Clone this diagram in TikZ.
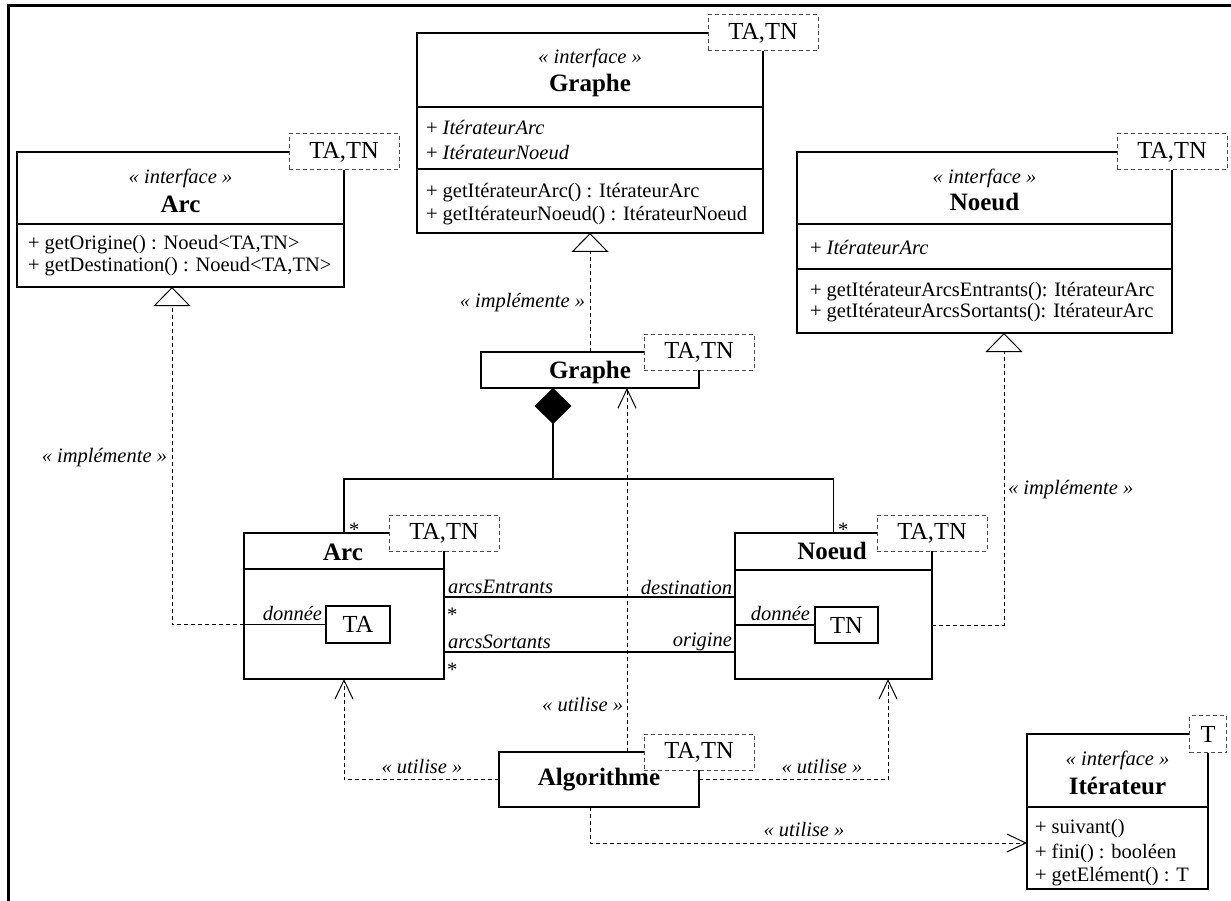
\documentclass[tikz,border=0pt]{standalone}
\usepackage{fontspec}
\setmainfont{Liberation Serif}
\usetikzlibrary{arrows.meta}
\begin{document}
\begin{tikzpicture}[x=1pt,y=-1pt,
  box/.style={draw=black, line width=1.2pt, fill=white, inner sep=0pt, outer sep=0pt},
  tmpl/.style={draw=black!70, dash pattern=on 4pt off 3pt, line width=1pt, fill=white, inner sep=0pt, outer sep=0pt,
     minimum width=110pt, minimum height=36pt, font=\fontsize{24.5}{28}\selectfont},
  txt/.style={inner sep=0pt, outer sep=0pt, font=\fontsize{20.5}{24}\selectfont},
  star/.style={inner sep=0pt, outer sep=0pt, anchor=base west, text depth=0pt, font=\fontsize{20.5}{24}\selectfont},
  ster/.style={inner sep=0pt, outer sep=0pt, font=\fontsize{20.5}{24}\selectfont\itshape},
  ttl/.style={inner sep=0pt, outer sep=0pt, font=\fontsize{25}{30}\selectfont\bfseries},
  sepline/.style={line width=1.2pt},
  dashline/.style={dash pattern=on 4pt off 3pt, line width=1pt},
  real/.style={dashline, -{Triangle[open, length=19pt, width=37pt, line width=1pt]}},
  dep/.style={dashline, -{Straight Barb[length=19pt, width=18pt, line width=1pt]}},
  comp/.style={line width=1.2pt, -{Diamond[length=36pt, width=37pt]}},
  assoc/.style={line width=1.1pt},
]
\useasboundingbox (0,0) rectangle (1231,901);
\fill[white] (0,0) rectangle (1231,901);
% frame
\draw[line width=3pt] (8,901) -- (8,6) -- (1231,6);

% ---------- boxes ----------
\node[box, minimum width=327pt, minimum height=135pt] (aif) at (180.5,219.5) {};
\node[box, minimum width=346pt, minimum height=200pt] (gif) at (590,133) {};
\node[box, minimum width=375pt, minimum height=181pt] (nif) at (984.5,242.5) {};
\node[box, minimum width=218pt, minimum height=36pt] (gcl) at (590,370) {};
\node[box, minimum width=200pt, minimum height=146pt] (acl) at (344,606) {};
\node[box, minimum width=197pt, minimum height=146pt] (ncl) at (833.5,606) {};
\node[box, minimum width=200pt, minimum height=55pt, font=\fontsize{25}{30}\selectfont\bfseries] (alg) at (599,779.5) {Algorithme};
\node[box, minimum width=181pt, minimum height=155pt] (itr) at (1117.5,811.5) {};
\node[box, minimum width=64pt, minimum height=37pt, font=\fontsize{24.5}{28}\selectfont] (ata) at (358,624.5) {TA};
\node[box, minimum width=63pt, minimum height=36pt, font=\fontsize{24.5}{28}\selectfont] (ntn) at (846.5,625) {TN};

% separators
\draw[sepline] (17,224) -- (344,224);
\draw[sepline] (417,107) -- (763,107);
\draw[sepline] (417,169) -- (763,169);
\draw[sepline] (797,224) -- (1172,224);
\draw[sepline] (797,269) -- (1172,269);
\draw[sepline] (244,569) -- (444,569);
\draw[sepline] (735,570) -- (932,570);
\draw[sepline] (1027,807) -- (1208,807);

% templates
\node[tmpl] (aiftp) at (aif.north east) {TA,TN};
\node[tmpl] (giftp) at (gif.north east) {TA,TN};
\node[tmpl] (niftp) at (nif.north east) {TA,TN};
\node[tmpl] (gcltp) at (gcl.north east) {TA,TN};
\node[tmpl] (acltp) at (acl.north east) {TA,TN};
\node[tmpl] (ncltp) at (ncl.north east) {TA,TN};
\node[tmpl] (algtp) at (alg.north east) {TA,TN};
\node[tmpl, minimum width=37pt, minimum height=37pt] (itrtp) at (itr.north east) {T};

% ---------- texts in boxes ----------
\node[ster] (aifs) at (180.5,178) {« interface »};
\node[ttl] (aifn) at (180.5,204) {Arc};
\node[txt, anchor=west] (aifm1) at (28,245) {+ getOrigine() : Noeud<TA,TN>};
\node[txt, anchor=west] (aifm2) at (28,267) {+ getDestination() : Noeud<TA,TN>};

\node[ster] (gifs) at (590,58) {« interface »};
\node[ttl] (gifn) at (590,85) {Graphe};
\node[txt, anchor=west] (gifa1) at (426,128) {+ \textit{ItérateurArc}};
\node[txt, anchor=west] (gifa2) at (426,152) {+ \textit{ItérateurNoeud}};
\node[txt, anchor=west] (gifm1) at (426,193) {+ getItérateurArc() : ItérateurArc};
\node[txt, anchor=west] (gifm2) at (426,216) {+ getItérateurNoeud() : ItérateurNoeud};

\node[ster] (nifs) at (984.5,178) {« interface »};
\node[ttl] (nifn) at (984.5,202) {Noeud};
\node[txt, anchor=west] (nifa1) at (810,247) {+ \textit{ItérateurArc}};
\node[txt, anchor=west] (nifm1) at (810,292) {+ getItérateurArcsEntrants(): ItérateurArc};
\node[txt, anchor=west] (nifm2) at (810,313) {+ getItérateurArcsSortants(): ItérateurArc};

\node[ttl] (gcln) at (590,372) {Graphe};
\node[ttl] (acln) at (343,552) {Arc};
\node[ttl] (ncln) at (832,551) {Noeud};

\node[ster] (itrs) at (1117.5,760) {« interface »};
\node[ttl] (itrn) at (1117.5,786) {Itérateur};
\node[txt, anchor=west] (itrm1) at (1035,829) {+ suivant()};
\node[txt, anchor=west] (itrm2) at (1035,853) {+ fini() : booléen};
\node[txt, anchor=west] (itrm3) at (1035,877) {+ getElément() : T};

% ---------- attribute links ----------
\draw[assoc] (acl.west |- ata.west) -- (ata.west);
\draw[assoc] (ncl.west |- ntn.west) -- (ntn.west);
\node[ster, anchor=east] (don1) at (322,613) {donnée};
\node[ster, anchor=east] (don2) at (810,613) {donnée};

% ---------- realizations ----------
\coordinate (ra1) at (172,624.5);
\draw[real] (acl.west |- ra1) -- (ra1) -- (ra1 |- aif.south);
\draw[real] (gcl.north) -- (gif.south);
\coordinate (rn1) at (1004,625);
\draw[real] (ncl.east |- rn1) -- (rn1) -- (rn1 |- nif.south);
\node[ster, anchor=east] (limp1) at (167,458) {« implémente »};
\node[ster, anchor=east] (limp2) at (585,303) {« implémente »};
\node[ster, anchor=west] (limp3) at (1008,490) {« implémente »};

% ---------- composition ----------
\coordinate (cj) at (553,479);
\draw[comp] (cj) -- (cj |- gcl.south);
\draw[line width=1.2pt] (acl.north) -- (acl.north |- cj) -- (ncl.north |- cj) -- (ncl.north);
\node[star] (mA) at (349,536) {*};
\node[star] (mN) at (838,536) {*};

% ---------- associations ----------
\coordinate (as1) at (0,597);
\coordinate (as2) at (0,652);
\draw[assoc] (acl.east |- as1) -- (ncl.west |- as1);
\draw[assoc] (acl.east |- as2) -- (ncl.west |- as2);
\node[ster, anchor=west] (r1) at (448,587) {arcsEntrants};
\node[ster, anchor=east] (r2) at (732,587) {destination};
\node[ster, anchor=west] (r3) at (448,642) {arcsSortants};
\node[ster, anchor=east] (r4) at (732,642) {origine};
\node[star] (m3) at (447,621) {*};
\node[star] (m4) at (447,676) {*};

% ---------- dependencies ----------
\coordinate (du) at (627,700);
\draw[dep] (alg.north -| du) -- (gcl.south -| du);
\draw[dep] (alg.west) -- (alg.west -| acl.south) -- (acl.south);
\coordinate (dr) at (888,779.5);
\draw[dep] (alg.east) -- (dr) -- (dr |- ncl.south);
\coordinate (db) at (590,843);
\draw[dep] (alg.south -| db) -- (db) -- (db -| itr.west);
\node[ster, anchor=east] (lu1) at (623,705) {« utilise »};
\node[ster] (lu2) at (422,767) {« utilise »};
\node[ster] (lu3) at (822,767) {« utilise »};
\node[ster] (lu4) at (804,830) {« utilise »};
\end{tikzpicture}
\end{document}
